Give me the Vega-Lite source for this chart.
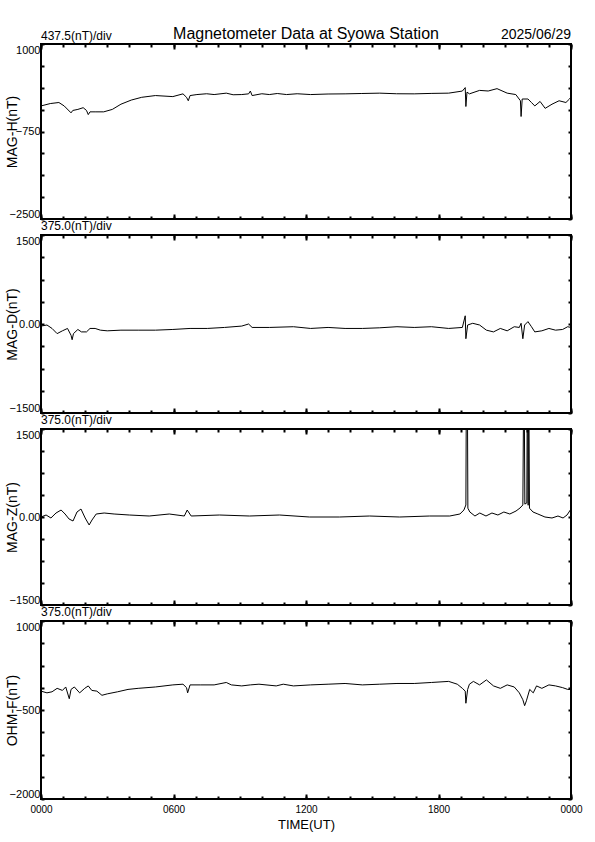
{
  "$schema": "https://vega.github.io/schema/vega-lite/v6.json",
  "background": "white",
  "padding": {"left": 4, "top": 25, "right": 20, "bottom": 4},
  "config": {
    "font": "Liberation Sans",
    "view": {"stroke": "black", "strokeWidth": 2},
    "axis": {"grid": false, "domain": false, "minExtent": 0, "labelColor": "black", "titleColor": "black", "titleFontWeight": "normal", "tickColor": "black", "tickWidth": 2, "labelFont": "Liberation Sans", "titleFont": "Liberation Sans"},
    "axisY": {"labelFlush": true},
    "title": {"anchor": "start", "frame": "group", "fontSize": 12, "fontWeight": "normal", "color": "black", "offset": 1}
  },
  "bounds": "flush",
  "spacing": 16,
  "datasets": {
    "H": [
      {"t": 0.0, "v": -239}, {"t": 0.42, "v": -191}, {"t": 0.81, "v": -170}, {"t": 1.05, "v": -239}, {"t": 1.36, "v": -377}, {"t": 1.44, "v": -329}, {"t": 1.67, "v": -308}, {"t": 1.91, "v": -274}, {"t": 2.06, "v": -329}, {"t": 2.14, "v": -412}, {"t": 2.22, "v": -357}, {"t": 2.45, "v": -357}, {"t": 2.84, "v": -357}, {"t": 3.23, "v": -308}, {"t": 3.62, "v": -204}, {"t": 4.09, "v": -121}, {"t": 4.56, "v": -66}, {"t": 5.18, "v": -31}, {"t": 5.97, "v": -52}, {"t": 6.43, "v": 3}, {"t": 6.59, "v": -66}, {"t": 6.67, "v": -135}, {"t": 6.75, "v": -31}, {"t": 7.06, "v": -11}, {"t": 7.5, "v": 5}, {"t": 7.84, "v": -11}, {"t": 8.39, "v": 17}, {"t": 8.7, "v": -15}, {"t": 9.09, "v": -11}, {"t": 9.4, "v": 3}, {"t": 9.48, "v": 59}, {"t": 9.56, "v": -31}, {"t": 10.0, "v": 5}, {"t": 10.34, "v": -11}, {"t": 10.7, "v": 10}, {"t": 11.12, "v": -11}, {"t": 11.6, "v": 5}, {"t": 12.21, "v": -11}, {"t": 13.0, "v": 0}, {"t": 13.77, "v": 3}, {"t": 14.5, "v": 10}, {"t": 15.34, "v": 17}, {"t": 16.1, "v": 5}, {"t": 16.9, "v": 3}, {"t": 17.7, "v": 12}, {"t": 18.46, "v": 17}, {"t": 19.08, "v": 59}, {"t": 19.21, "v": 128}, {"t": 19.24, "v": -250}, {"t": 19.29, "v": 38}, {"t": 19.4, "v": 3}, {"t": 19.86, "v": 72}, {"t": 20.25, "v": 60}, {"t": 20.65, "v": 107}, {"t": 21.11, "v": 17}, {"t": 21.5, "v": -11}, {"t": 21.71, "v": -135}, {"t": 21.74, "v": -450}, {"t": 21.79, "v": -100}, {"t": 22.05, "v": -100}, {"t": 22.21, "v": -170}, {"t": 22.36, "v": -239}, {"t": 22.6, "v": -149}, {"t": 22.83, "v": -287}, {"t": 23.14, "v": -204}, {"t": 23.46, "v": -135}, {"t": 23.77, "v": -170}, {"t": 23.93, "v": -100}, {"t": 24.0, "v": -66}
    ],
    "D": [
      {"t": 0.0, "v": -35}, {"t": 0.27, "v": -17}, {"t": 0.5, "v": -75}, {"t": 0.73, "v": -162}, {"t": 0.97, "v": -115}, {"t": 1.2, "v": -75}, {"t": 1.36, "v": -190}, {"t": 1.41, "v": -265}, {"t": 1.47, "v": -162}, {"t": 1.67, "v": -92}, {"t": 1.83, "v": -133}, {"t": 2.06, "v": -133}, {"t": 2.22, "v": -75}, {"t": 2.45, "v": -75}, {"t": 2.69, "v": -104}, {"t": 3.0, "v": -115}, {"t": 3.62, "v": -104}, {"t": 4.4, "v": -104}, {"t": 5.18, "v": -104}, {"t": 5.97, "v": -92}, {"t": 6.75, "v": -75}, {"t": 7.53, "v": -75}, {"t": 8.31, "v": -58}, {"t": 9.09, "v": -35}, {"t": 9.4, "v": 0}, {"t": 9.56, "v": -58}, {"t": 10.34, "v": -58}, {"t": 11.43, "v": -46}, {"t": 12.21, "v": -75}, {"t": 13.0, "v": -58}, {"t": 13.77, "v": -75}, {"t": 14.55, "v": -75}, {"t": 15.34, "v": -64}, {"t": 16.12, "v": -46}, {"t": 16.9, "v": -58}, {"t": 17.68, "v": -46}, {"t": 18.46, "v": -75}, {"t": 19.08, "v": -58}, {"t": 19.21, "v": 138}, {"t": 19.24, "v": -248}, {"t": 19.32, "v": -17}, {"t": 19.55, "v": 12}, {"t": 19.86, "v": -17}, {"t": 20.17, "v": -104}, {"t": 20.49, "v": -133}, {"t": 20.8, "v": -75}, {"t": 21.11, "v": -115}, {"t": 21.43, "v": -46}, {"t": 21.66, "v": -58}, {"t": 21.74, "v": 12}, {"t": 21.82, "v": -248}, {"t": 21.9, "v": -17}, {"t": 22.05, "v": 40}, {"t": 22.21, "v": -46}, {"t": 22.36, "v": -133}, {"t": 22.68, "v": -115}, {"t": 23.0, "v": -75}, {"t": 23.3, "v": -104}, {"t": 23.62, "v": -92}, {"t": 23.85, "v": -46}, {"t": 24.0, "v": -58}
    ],
    "Z": [
      {"t": 0.0, "v": 0}, {"t": 0.23, "v": 34}, {"t": 0.45, "v": -17}, {"t": 0.68, "v": 68}, {"t": 0.91, "v": 119}, {"t": 1.09, "v": 51}, {"t": 1.27, "v": -34}, {"t": 1.45, "v": -68}, {"t": 1.63, "v": 85}, {"t": 1.81, "v": 136}, {"t": 2.0, "v": -17}, {"t": 2.18, "v": -136}, {"t": 2.31, "v": -51}, {"t": 2.5, "v": 51}, {"t": 2.86, "v": 68}, {"t": 3.31, "v": 51}, {"t": 4.0, "v": 34}, {"t": 4.9, "v": 17}, {"t": 5.81, "v": 51}, {"t": 6.49, "v": 17}, {"t": 6.62, "v": 119}, {"t": 6.8, "v": 17}, {"t": 8.08, "v": 34}, {"t": 9.44, "v": 17}, {"t": 10.8, "v": 34}, {"t": 12.16, "v": 0}, {"t": 13.52, "v": 0}, {"t": 14.88, "v": 17}, {"t": 16.24, "v": 0}, {"t": 17.6, "v": 17}, {"t": 18.51, "v": 17}, {"t": 18.97, "v": 51}, {"t": 19.15, "v": 119}, {"t": 19.24, "v": 205}, {"t": 19.27, "v": 3000}, {"t": 19.3, "v": 3000}, {"t": 19.33, "v": 150}, {"t": 19.42, "v": 85}, {"t": 19.65, "v": 17}, {"t": 19.87, "v": 68}, {"t": 20.15, "v": 17}, {"t": 20.42, "v": 68}, {"t": 20.69, "v": 34}, {"t": 20.96, "v": 85}, {"t": 21.23, "v": 51}, {"t": 21.51, "v": 102}, {"t": 21.69, "v": 153}, {"t": 21.82, "v": 205}, {"t": 21.87, "v": 3000}, {"t": 21.91, "v": 220}, {"t": 22.0, "v": 240}, {"t": 22.03, "v": 3000}, {"t": 22.06, "v": 200}, {"t": 22.08, "v": 3000}, {"t": 22.12, "v": 150}, {"t": 22.28, "v": 85}, {"t": 22.5, "v": 51}, {"t": 22.82, "v": 0}, {"t": 23.14, "v": -17}, {"t": 23.41, "v": 17}, {"t": 23.64, "v": -17}, {"t": 23.82, "v": 34}, {"t": 24.0, "v": 136}
    ],
    "F": [
      {"t": 0.0, "v": -182}, {"t": 0.27, "v": -211}, {"t": 0.5, "v": -193}, {"t": 0.73, "v": -135}, {"t": 0.97, "v": -170}, {"t": 1.12, "v": -112}, {"t": 1.28, "v": -310}, {"t": 1.36, "v": -153}, {"t": 1.51, "v": -112}, {"t": 1.75, "v": -211}, {"t": 1.98, "v": -135}, {"t": 2.14, "v": -94}, {"t": 2.3, "v": -170}, {"t": 2.53, "v": -182}, {"t": 2.76, "v": -252}, {"t": 3.0, "v": -228}, {"t": 3.47, "v": -193}, {"t": 3.94, "v": -153}, {"t": 4.4, "v": -135}, {"t": 5.18, "v": -112}, {"t": 5.97, "v": -77}, {"t": 6.43, "v": -65}, {"t": 6.59, "v": -123}, {"t": 6.64, "v": -211}, {"t": 6.75, "v": -77}, {"t": 7.21, "v": -77}, {"t": 7.84, "v": -77}, {"t": 8.39, "v": -36}, {"t": 8.62, "v": -77}, {"t": 9.09, "v": -94}, {"t": 9.48, "v": -77}, {"t": 9.87, "v": -65}, {"t": 10.65, "v": -94}, {"t": 10.97, "v": -65}, {"t": 11.43, "v": -94}, {"t": 12.21, "v": -77}, {"t": 13.0, "v": -65}, {"t": 13.77, "v": -53}, {"t": 14.55, "v": -77}, {"t": 15.34, "v": -65}, {"t": 16.12, "v": -53}, {"t": 16.9, "v": -53}, {"t": 17.68, "v": -36}, {"t": 18.46, "v": -18}, {"t": 18.85, "v": -65}, {"t": 19.08, "v": -135}, {"t": 19.21, "v": -182}, {"t": 19.24, "v": -386}, {"t": 19.32, "v": -153}, {"t": 19.4, "v": -65}, {"t": 19.58, "v": -18}, {"t": 19.86, "v": -77}, {"t": 20.17, "v": 7}, {"t": 20.49, "v": -94}, {"t": 20.8, "v": -135}, {"t": 21.11, "v": -77}, {"t": 21.43, "v": -112}, {"t": 21.66, "v": -211}, {"t": 21.82, "v": -327}, {"t": 21.9, "v": -427}, {"t": 21.98, "v": -345}, {"t": 22.13, "v": -153}, {"t": 22.29, "v": -211}, {"t": 22.44, "v": -94}, {"t": 22.68, "v": -135}, {"t": 23.0, "v": -77}, {"t": 23.3, "v": -94}, {"t": 23.62, "v": -123}, {"t": 23.85, "v": -153}, {"t": 24.0, "v": -153}
    ],
    "scaleText": [{"t": 0, "v": 1000, "label": "437.5(nT)/div"}],
    "mainTitle": [{"t": 12, "v": 1000, "label": "Magnetometer Data at Syowa Station"}],
    "dateText": [{"t": 24, "v": 1000, "label": "2025/06/29"}]
  },
  "vconcat": [
    {
      "width": 530, "height": 175,
      "layer": [
        {
          "data": {"name": "H"},
          "mark": {"type": "line", "color": "black", "strokeWidth": 1, "clip": true},
          "encoding": {
            "x": {"field": "t", "type": "quantitative", "scale": {"domain": [0, 24], "nice": false, "zero": false},
                  "axis": {"orient": "bottom", "values": [0,1,2,3,4,5,6,7,8,9,10,11,12,13,14,15,16,17,18,19,20,21,22,23,24], "tickSize": -3, "labels": false, "title": null}},
            "y": {"field": "v", "type": "quantitative", "scale": {"domain": [-2500, 1000], "nice": false, "zero": false},
                  "axis": {"orient": "left", "values": [-2500, -750, 1000], "ticks": false, "format": "d", "labelFontSize": 11, "labelPadding": 1, "title": "MAG-H(nT)", "titleFontSize": 14, "titlePadding": -10}}
          }
        },
        {
          "data": {"name": "H"},
          "mark": {"type": "line", "opacity": 0, "clip": true},
          "encoding": {
            "x": {"field": "t", "type": "quantitative", "axis": {"orient": "top", "values": [0,1,2,3,4,5,6,7,8,9,10,11,12,13,14,15,16,17,18,19,20,21,22,23,24], "tickSize": -3, "labels": false, "title": null}},
            "y": {"field": "v", "type": "quantitative", "axis": {"orient": "right", "values": [-2500,-2062.5,-1625,-1187.5,-750,-312.5,125,562.5,1000], "tickSize": -3, "labels": false, "title": null}}
          }
        },
        {
          "data": {"name": "H"},
          "mark": {"type": "line", "opacity": 0, "clip": true},
          "encoding": {
            "x": {"field": "t", "type": "quantitative", "axis": {"orient": "top", "values": [0,6,12,18,24], "tickSize": -5, "labels": false, "title": null}},
            "y": {"field": "v", "type": "quantitative", "axis": {"orient": "left", "values": [-2500,-2062.5,-1625,-1187.5,-750,-312.5,125,562.5,1000], "tickSize": -3, "labels": false, "title": null}}
          }
        },
        {
          "data": {"name": "H"},
          "mark": {"type": "line", "opacity": 0, "clip": true},
          "encoding": {
            "x": {"field": "t", "type": "quantitative", "axis": {"orient": "bottom", "values": [0,6,12,18,24], "tickSize": -5, "labels": false, "title": null}},
            "y": {"field": "v", "type": "quantitative", "axis": null}
          }
        },
        {
          "data": {"name": "scaleText"},
          "mark": {"type": "text", "baseline": "bottom", "align": "left", "dy": -1, "fontSize": 12, "color": "black"},
          "encoding": {
            "x": {"field": "t", "type": "quantitative", "axis": null},
            "y": {"field": "v", "type": "quantitative", "axis": null},
            "text": {"field": "label"}
          }
        },
        {
          "data": {"name": "mainTitle"},
          "mark": {"type": "text", "baseline": "bottom", "align": "center", "dy": -2, "fontSize": 16, "color": "black"},
          "encoding": {
            "x": {"field": "t", "type": "quantitative", "axis": null},
            "y": {"field": "v", "type": "quantitative", "axis": null},
            "text": {"field": "label"}
          }
        },
        {
          "data": {"name": "dateText"},
          "mark": {"type": "text", "baseline": "bottom", "align": "right", "dy": -2, "fontSize": 14, "color": "black"},
          "encoding": {
            "x": {"field": "t", "type": "quantitative", "axis": null},
            "y": {"field": "v", "type": "quantitative", "axis": null},
            "text": {"field": "label"}
          }
        }
      ],
      "resolve": {"axis": {"x": "independent", "y": "independent"}}
    },
    {
      "width": 530, "height": 178,
      "title": {"text": "375.0(nT)/div"},
      "data": {"name": "D"},
      "layer": [
        {
          "mark": {"type": "line", "color": "black", "strokeWidth": 1, "clip": true},
          "encoding": {
            "x": {"field": "t", "type": "quantitative", "scale": {"domain": [0, 24], "nice": false, "zero": false},
                  "axis": {"orient": "bottom", "values": [0,1,2,3,4,5,6,7,8,9,10,11,12,13,14,15,16,17,18,19,20,21,22,23,24], "tickSize": -3, "labels": false, "title": null}},
            "y": {"field": "v", "type": "quantitative", "scale": {"domain": [-1500, 1500], "nice": false, "zero": false},
                  "axis": {"orient": "left", "values": [-1500, 0, 1500], "ticks": false, "format": "d", "labelExpr": "datum.value == 0 ? '0.00' : datum.label", "labelFontSize": 11, "labelPadding": 1, "title": "MAG-D(nT)", "titleFontSize": 14, "titlePadding": -10}}
          }
        },
        {
          "mark": {"type": "line", "opacity": 0, "clip": true},
          "encoding": {
            "x": {"field": "t", "type": "quantitative", "axis": {"orient": "top", "values": [0,1,2,3,4,5,6,7,8,9,10,11,12,13,14,15,16,17,18,19,20,21,22,23,24], "tickSize": -3, "labels": false, "title": null}},
            "y": {"field": "v", "type": "quantitative", "axis": {"orient": "right", "values": [-1500,-1125,-750,-375,0,375,750,1125,1500], "tickSize": -3, "labels": false, "title": null}}
          }
        },
        {
          "mark": {"type": "line", "opacity": 0, "clip": true},
          "encoding": {
            "x": {"field": "t", "type": "quantitative", "axis": {"orient": "top", "values": [0,6,12,18,24], "tickSize": -5, "labels": false, "title": null}},
            "y": {"field": "v", "type": "quantitative", "axis": {"orient": "left", "values": [-1500,-1125,-750,-375,0,375,750,1125,1500], "tickSize": -3, "labels": false, "title": null}}
          }
        },
        {
          "mark": {"type": "line", "opacity": 0, "clip": true},
          "encoding": {
            "x": {"field": "t", "type": "quantitative", "axis": {"orient": "bottom", "values": [0,6,12,18,24], "tickSize": -5, "labels": false, "title": null}},
            "y": {"field": "v", "type": "quantitative", "axis": null}
          }
        }
      ],
      "resolve": {"axis": {"x": "independent", "y": "independent"}}
    },
    {
      "width": 530, "height": 176,
      "title": {"text": "375.0(nT)/div"},
      "data": {"name": "Z"},
      "layer": [
        {
          "mark": {"type": "line", "color": "black", "strokeWidth": 1, "clip": true},
          "encoding": {
            "x": {"field": "t", "type": "quantitative", "scale": {"domain": [0, 24], "nice": false, "zero": false},
                  "axis": {"orient": "bottom", "values": [0,1,2,3,4,5,6,7,8,9,10,11,12,13,14,15,16,17,18,19,20,21,22,23,24], "tickSize": -3, "labels": false, "title": null}},
            "y": {"field": "v", "type": "quantitative", "scale": {"domain": [-1500, 1500], "nice": false, "zero": false},
                  "axis": {"orient": "left", "values": [-1500, 0, 1500], "ticks": false, "format": "d", "labelExpr": "datum.value == 0 ? '0.00' : datum.label", "labelFontSize": 11, "labelPadding": 1, "title": "MAG-Z(nT)", "titleFontSize": 14, "titlePadding": -10}}
          }
        },
        {
          "mark": {"type": "line", "opacity": 0, "clip": true},
          "encoding": {
            "x": {"field": "t", "type": "quantitative", "axis": {"orient": "top", "values": [0,1,2,3,4,5,6,7,8,9,10,11,12,13,14,15,16,17,18,19,20,21,22,23,24], "tickSize": -3, "labels": false, "title": null}},
            "y": {"field": "v", "type": "quantitative", "axis": {"orient": "right", "values": [-1500,-1125,-750,-375,0,375,750,1125,1500], "tickSize": -3, "labels": false, "title": null}}
          }
        },
        {
          "mark": {"type": "line", "opacity": 0, "clip": true},
          "encoding": {
            "x": {"field": "t", "type": "quantitative", "axis": {"orient": "top", "values": [0,6,12,18,24], "tickSize": -5, "labels": false, "title": null}},
            "y": {"field": "v", "type": "quantitative", "axis": {"orient": "left", "values": [-1500,-1125,-750,-375,0,375,750,1125,1500], "tickSize": -3, "labels": false, "title": null}}
          }
        },
        {
          "mark": {"type": "line", "opacity": 0, "clip": true},
          "encoding": {
            "x": {"field": "t", "type": "quantitative", "axis": {"orient": "bottom", "values": [0,6,12,18,24], "tickSize": -5, "labels": false, "title": null}},
            "y": {"field": "v", "type": "quantitative", "axis": null}
          }
        }
      ],
      "resolve": {"axis": {"x": "independent", "y": "independent"}}
    },
    {
      "width": 530, "height": 178,
      "title": {"text": "375.0(nT)/div"},
      "data": {"name": "F"},
      "layer": [
        {
          "mark": {"type": "line", "color": "black", "strokeWidth": 1, "clip": true},
          "encoding": {
            "x": {"field": "t", "type": "quantitative", "scale": {"domain": [0, 24], "nice": false, "zero": false},
                  "axis": {"orient": "bottom", "values": [0, 6, 12, 18, 24], "ticks": false, "labelFontSize": 10, "labelPadding": 5, "labelFlush": false, "labelOverlap": false, "labelExpr": "datum.value == 24 ? '0000' : (datum.value < 10 ? '0' + datum.value + '00' : datum.value + '00')", "title": "TIME(UT)", "titleFontSize": 13, "titlePadding": 4}},
            "y": {"field": "v", "type": "quantitative", "scale": {"domain": [-2000, 1000], "nice": false, "zero": false},
                  "axis": {"orient": "left", "values": [-2000, -500, 1000], "ticks": false, "format": "d", "labelFontSize": 11, "labelPadding": 1, "title": "OHM-F(nT)", "titleFontSize": 14, "titlePadding": -10}}
          }
        },
        {
          "mark": {"type": "line", "opacity": 0, "clip": true},
          "encoding": {
            "x": {"field": "t", "type": "quantitative", "axis": {"orient": "top", "values": [0,1,2,3,4,5,6,7,8,9,10,11,12,13,14,15,16,17,18,19,20,21,22,23,24], "tickSize": -3, "labels": false, "title": null}},
            "y": {"field": "v", "type": "quantitative", "axis": {"orient": "right", "values": [-2000,-1625,-1250,-875,-500,-125,250,625,1000], "tickSize": -3, "labels": false, "title": null}}
          }
        },
        {
          "mark": {"type": "line", "opacity": 0, "clip": true},
          "encoding": {
            "x": {"field": "t", "type": "quantitative", "axis": {"orient": "top", "values": [0,6,12,18,24], "tickSize": -5, "labels": false, "title": null}},
            "y": {"field": "v", "type": "quantitative", "axis": {"orient": "left", "values": [-2000,-1625,-1250,-875,-500,-125,250,625,1000], "tickSize": -3, "labels": false, "title": null}}
          }
        },
        {
          "mark": {"type": "line", "opacity": 0, "clip": true},
          "encoding": {
            "x": {"field": "t", "type": "quantitative", "axis": {"orient": "bottom", "values": [0,1,2,3,4,5,6,7,8,9,10,11,12,13,14,15,16,17,18,19,20,21,22,23,24], "tickSize": -3, "labels": false, "title": null}},
            "y": {"field": "v", "type": "quantitative", "axis": null}
          }
        },
        {
          "mark": {"type": "line", "opacity": 0, "clip": true},
          "encoding": {
            "x": {"field": "t", "type": "quantitative", "axis": {"orient": "bottom", "values": [0,6,12,18,24], "tickSize": -5, "labels": false, "title": null}},
            "y": {"field": "v", "type": "quantitative", "axis": null}
          }
        }
      ],
      "resolve": {"axis": {"x": "independent", "y": "independent"}}
    }
  ]
}
